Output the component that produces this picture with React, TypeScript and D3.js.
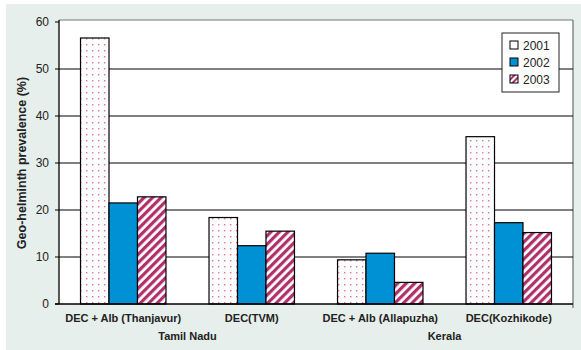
import React from "react";
import * as d3 from "d3";

const categories = ["DEC + Alb (Thanjavur)", "DEC(TVM)", "DEC + Alb (Allapuzha)", "DEC(Kozhikode)"];
const years = ["2001", "2002", "2003"];
const values2001 = [56.6, 18.4, 9.4, 35.6];
const values2002 = [21.5, 12.4, 10.8, 17.3];
const values2003 = [22.8, 15.5, 4.6, 15.2];
const yTicks = [0, 10, 20, 30, 40, 50, 60];
const groupLabels = [
  { label: "Tamil Nadu", from: 0, to: 1 },
  { label: "Kerala", from: 2, to: 3 },
];

const W = 581;
const H = 350;
const left = 59;
const right = 573;
const top = 22;
const bottom = 304;
const font = "'Liberation Sans', Arial, sans-serif";

export default function App() {
  const x = d3.scaleBand<string>().domain(categories).range([left, right]).paddingInner(0.335).paddingOuter(0.1675);
  const xs = d3.scaleBand<string>().domain(years).range([0, x.bandwidth()]);
  const y = d3.scaleLinear().domain([0, 60]).range([bottom, top]);
  const series = [values2001, values2002, values2003];
  const fills = ["url(#dots)", "#0090d4", "url(#stripes)"];

  return (
    <svg width={W} height={H} style={{ position: "absolute", left: 0, top: 0 }}>
      <defs>
        <pattern id="dots" patternUnits="userSpaceOnUse" width={6} height={6}>
          <rect width={6} height={6} fill="#fff" />
          <rect x={2} y={2} width={1.4} height={1.4} fill="#e8708e" />
        </pattern>
        <pattern id="stripes" patternUnits="userSpaceOnUse" width={6} height={6} patternTransform="rotate(45)">
          <rect width={6} height={6} fill="#fff" />
          <rect width={3.2} height={6} fill="#b0306a" />
        </pattern>
        <pattern id="stripesL" patternUnits="userSpaceOnUse" width={4} height={4} patternTransform="rotate(45)">
          <rect width={4} height={4} fill="#fff" />
          <rect width={2} height={4} fill="#b0306a" />
        </pattern>
      </defs>
      <rect x={6} y={4} width={W - 6} height={H - 4} fill="#e6efeb" />
      <rect x={left} y={20} width={right - left} height={bottom - 20} fill="#fff" />
      <line x1={left} x2={right} y1={20} y2={20} stroke="#777" strokeWidth={1} />
      <line x1={right} x2={right} y1={20} y2={bottom + 4} stroke="#777" strokeWidth={1.3} />
      {yTicks.map((t) => (
        <g key={t}>
          {t > 0 && t < 60 && (
            <line x1={left} x2={right} y1={y(t)} y2={y(t)} stroke="#000" strokeWidth={1} />
          )}
          <line x1={left - 4} x2={left} y1={y(t)} y2={y(t)} stroke="#000" strokeWidth={1} />
          <text x={left - 10} y={y(t)} dy="0.35em" textAnchor="end" fontFamily={font} fontSize={12} fill="#222">
            {t}
          </text>
        </g>
      ))}
      {categories.map((c, ci) =>
        series.map((s, si) => (
          <rect
            key={c + si}
            x={(x(c) as number) + (xs(years[si]) as number)}
            y={y(s[ci])}
            width={xs.bandwidth()}
            height={bottom - y(s[ci])}
            fill={fills[si]}
            stroke="#000"
            strokeWidth={1.2}
          />
        ))
      )}
      <line x1={left} x2={left} y1={20} y2={bottom} stroke="#000" strokeWidth={1.3} />
      <line x1={left - 4} x2={right} y1={bottom} y2={bottom} stroke="#000" strokeWidth={1.3} />
      {categories.map((c) => (
        <text
          key={c}
          x={(x(c) as number) + x.bandwidth() / 2}
          y={322}
          textAnchor="middle"
          fontFamily={font}
          fontSize={11}
          fontWeight="bold"
          fill="#222"
        >
          {c}
        </text>
      ))}
      {groupLabels.map((g) => {
        const cx =
          ((x(categories[g.from]) as number) + (x(categories[g.to]) as number) + x.bandwidth()) / 2;
        return (
          <text key={g.label} x={cx} y={340} textAnchor="middle" fontFamily={font} fontSize={11} fontWeight="bold" fill="#222">
            {g.label}
          </text>
        );
      })}
      <text
        transform={`translate(26,${(top + bottom) / 2}) rotate(-90)`}
        textAnchor="middle"
        fontFamily={font}
        fontSize={12.5}
        fontWeight="bold"
        fill="#222"
      >
        Geo-helminth prevalence (%)
      </text>
      <rect x={502} y={33} width={57} height={59} fill="#fff" stroke="#222" strokeWidth={1} />
      {years.map((yr, i) => (
        <g key={yr}>
          <rect
            x={510}
            y={41 + i * 17}
            width={8}
            height={8}
            fill={i === 0 ? "#fff" : i === 1 ? "#0090d4" : "url(#stripesL)"}
            stroke="#000"
            strokeWidth={1}
          />
          <text x={523} y={50 + i * 17} fontFamily={font} fontSize={12} fill="#222">
            {yr}
          </text>
        </g>
      ))}
    </svg>
  );
}
